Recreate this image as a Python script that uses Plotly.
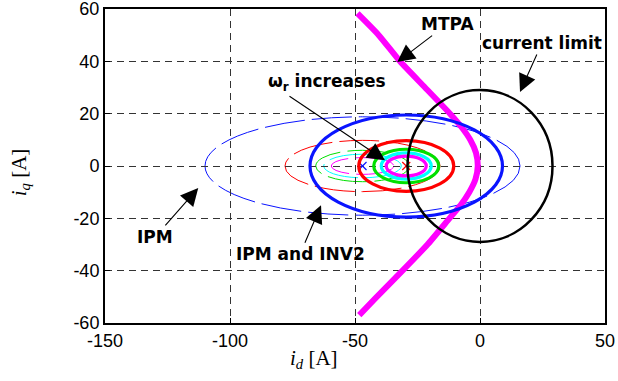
import plotly.graph_objects as go

# ---- data ----
mtpa_iq = [58.3, 50, 40, 30, 20, 15, 10, 5, 0, -5, -10, -15, -20, -30, -40, -50, -57]
mtpa_id = [-49, -40.5, -32, -22, -12, -7.5, -3.9, -1.6, -0.9, -1.8, -4.3, -7.8, -12.2, -21, -31, -41.3, -48.3]

# current limit circle (centre id, centre iq, radius)
limit_center = (0.0, 0.0)
limit_radius = 29.0

# IPM and INV2 (thick) ellipses: centre id, semi-axis id, semi-axis iq
thick_center = -29.5
thick_colors = ["#0a14ff", "#ff0000", "#00e000", "#00ffff", "#ff00ff"]
thick_a = [38.5, 19.0, 13.0, 10.0, 8.0]
thick_b = [19.5, 9.7, 6.4, 5.0, 3.8]

# IPM (thin, broken) ellipses
thin_center = -47.0
thin_colors = ["#0a14ff", "#ff0000", "#00e000", "#00ffff", "#ff00ff"]
thin_a = [63.0, 31.0, 18.7, 15.5, 12.5]
thin_b = [18.8, 9.8, 6.0, 4.5, 3.2]

center_id = [thin_center, thick_center]
center_iq = [0, 0]
center_colors = ["#0a14ff", "#ff0000"]

x_ticks = [-150, -100, -50, 0, 50]
x_ticktext = ["-150", "-100", "-50", "0", "50"]
y_ticks = [-60, -40, -20, 0, 20, 40, 60]
y_ticktext = ["-60", "-40", "-20", "0", "20", "40", "60"]

fig = go.Figure()

shapes = []
for c, a, b in zip(thin_colors, thin_a, thin_b):
    shapes.append(dict(type="circle", xref="x", yref="y",
                       x0=thin_center - a, x1=thin_center + a, y0=-b, y1=b,
                       line=dict(color=c, width=1, dash="40px,7px"), layer="below"))
for c, a, b in zip(thick_colors, thick_a, thick_b):
    shapes.append(dict(type="circle", xref="x", yref="y",
                       x0=thick_center - a, x1=thick_center + a, y0=-b, y1=b,
                       line=dict(color=c, width=3.2), layer="above"))
shapes.append(dict(type="circle", xref="x", yref="y",
                   x0=limit_center[0] - limit_radius, x1=limit_center[0] + limit_radius,
                   y0=limit_center[1] - limit_radius, y1=limit_center[1] + limit_radius,
                   line=dict(color="black", width=2.5), layer="above"))

fig.add_trace(go.Scatter(x=mtpa_id, y=mtpa_iq, mode="lines",
                         line=dict(color="#ff00ff", width=6, shape="spline", smoothing=0.6),
                         showlegend=False, hoverinfo="skip"))
for xi, yi, c in zip(center_id, center_iq, center_colors):
    fig.add_trace(go.Scatter(x=[xi], y=[yi], mode="markers",
                             marker=dict(symbol="x-thin", size=8, line=dict(color=c, width=1.2)),
                             showlegend=False, hoverinfo="skip"))

lab_font = dict(family="DejaVu Sans", size=17, color="black")
arrow_style = dict(showarrow=True, arrowhead=2, arrowsize=3.2, arrowwidth=1.1,
                   arrowcolor="black", standoff=0, xref="x", yref="y", font=lab_font)
annotations = []
# labels with arrows: text, tip (data), text-centre offset from tip (px)
labelled = [
    ("MTPA", -33.1, 39.7, 50, -38),
    ("current limit", 16.0, 28.3, 22, -49),
    ("IPM", -112.7, -8.4, -43, 49),
    ("IPM and INV2", -63.6, -15.0, -21, 49),
]
for t, x, y, ax, ay in labelled:
    annotations.append(dict(text="<b>" + t + "</b>", x=x, y=y, ax=ax, ay=ay, **arrow_style))
# omega_r label and its separate arrow
annotations.append(dict(text="<b>ω<sub>r</sub> increases</b>", x=-61.2, y=32.1, xref="x", yref="y",
                        showarrow=False, font=lab_font))
annotations.append(dict(text="", x=-38.0, y=2.2, ax=-97, ay=-65, **arrow_style))

# axis titles
annotations.append(dict(text="<i>i</i><sub><i>d</i></sub> [A]", xref="paper", yref="paper",
                        x=0.418, y=0, yshift=-36, xanchor="center", yanchor="middle",
                        showarrow=False,
                        font=dict(family="Liberation Serif", size=21, color="black")))
annotations.append(dict(text="<i>i</i><sub><i>q</i></sub> [A]", xref="paper", yref="paper",
                        x=0, y=0.48, xshift=-85, xanchor="center", yanchor="middle",
                        textangle=-90, showarrow=False,
                        font=dict(family="Liberation Serif", size=21, color="black")))

tick_font = dict(family="Liberation Sans", size=18, color="black")
axis_common = dict(showgrid=True, gridcolor="#333", gridwidth=1.2, griddash="7px,5px",
                   zeroline=False, showline=True, linecolor="black", linewidth=2, mirror=True,
                   ticks="inside", ticklen=5, tickcolor="black", tickfont=tick_font,
                   automargin=False, ticklabeloverflow="allow")
fig.update_layout(
    width=618, height=381,
    margin=dict(l=105, r=13, t=9, b=58),
    paper_bgcolor="white", plot_bgcolor="white",
    shapes=shapes, annotations=annotations,
    showlegend=False,
    xaxis=dict(range=[-150, 50], tickvals=x_ticks, ticktext=x_ticktext, **axis_common),
    yaxis=dict(range=[-60, 60], tickvals=y_ticks, ticktext=y_ticktext, **axis_common),
)

fig.write_html("out.html")
